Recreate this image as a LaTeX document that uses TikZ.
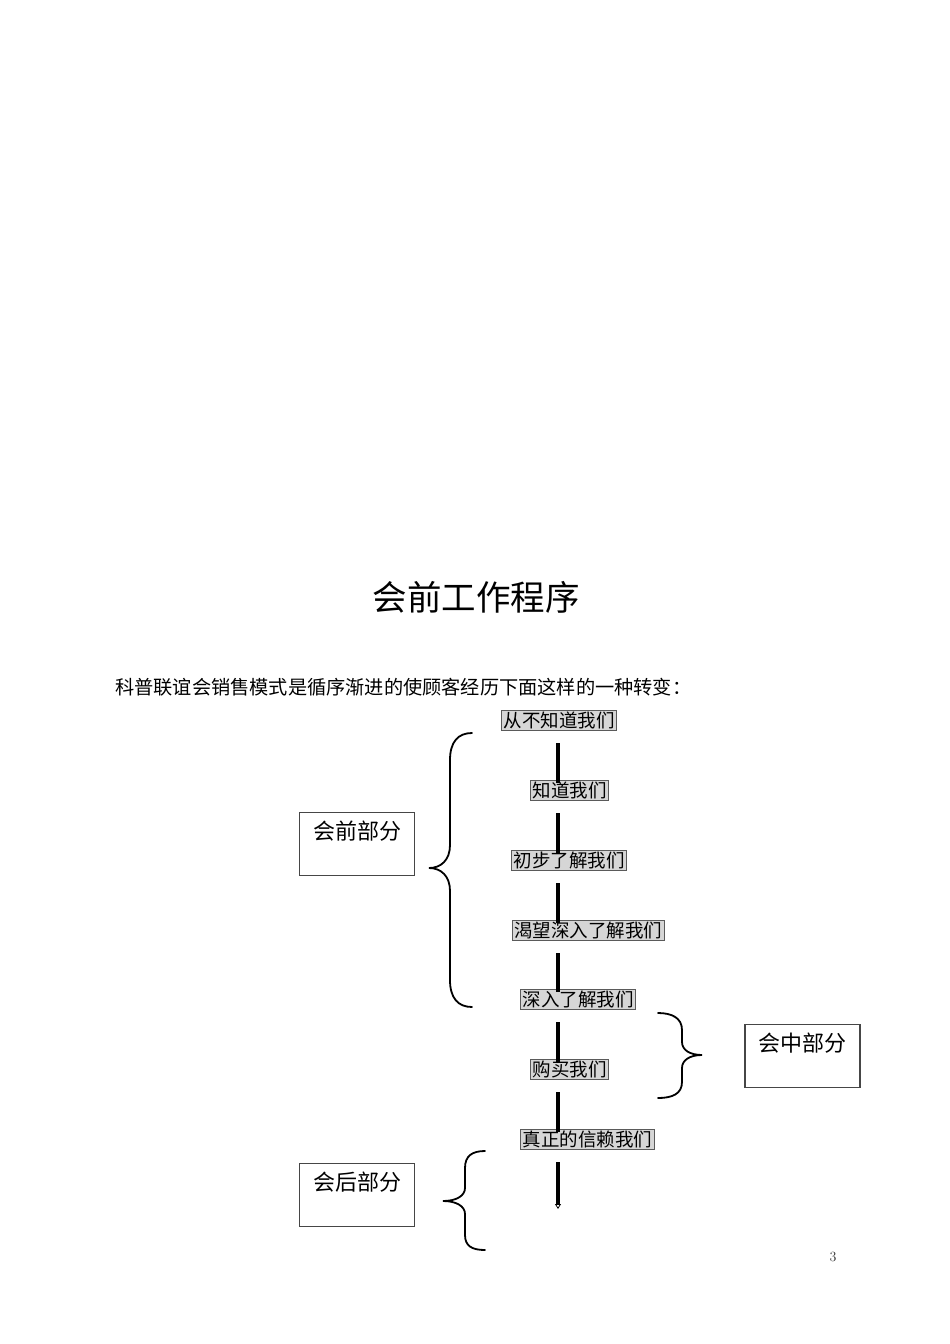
\documentclass[tikz,border=0pt]{standalone}
\usepackage{fontspec}
\newfontfamily\cjk{Noto Sans CJK SC}
\usetikzlibrary{arrows.meta,calc}
\definecolor{lblfill}{RGB}{214,214,214}
\definecolor{lbldraw}{RGB}{90,90,90}
\definecolor{boxdraw}{RGB}{70,70,70}
\tikzset{
  lbl/.style={fill=lblfill,draw=lbldraw,line width=0.8pt,inner xsep=2pt,inner ysep=0pt,
    text height=17pt,text depth=3pt,font=\cjk\fontsize{18.5pt}{20pt}\selectfont},
  partbox/.style={draw=boxdraw,line width=1.3pt,minimum width=115pt,inner ysep=0pt,
    text height=26.5pt,text depth=36.5pt,anchor=north,font=\cjk\fontsize{22pt}{24pt}\selectfont},
  brace/.style={line width=1.8pt,line cap=round},
  flow/.style={line width=3.3pt},
}
\begin{document}
\begin{tikzpicture}[x=1pt,y=-1pt]
\useasboundingbox (0,0) rectangle (950,1344);
\fill[white] (0,0) rectangle (950,1344);
\coordinate (axis) at (558,0);
% title and intro
\node[font=\cjk\fontsize{34.5pt}{36pt}\selectfont] (title) at (476,597) {会前工作程序};
\node[anchor=west,inner sep=0pt,font=\cjk\fontsize{19.2pt}{21pt}\selectfont] (intro) at (115,687) {科普联谊会销售模式是循序渐进的使顾客经历下面这样的一种转变：};
% stage labels
\node[lbl] (s1) at (559,720) {从不知道我们};
\node[lbl] (s2) at (569.5,790) {知道我们};
\node[lbl] (s3) at (569,860) {初步了解我们};
\node[lbl] (s4) at (588,930) {渴望深入了解我们};
\node[lbl] (s5) at (578,999) {深入了解我们};
\node[lbl] (s6) at (569.5,1069) {购买我们};
\node[lbl] (s7) at (587.5,1139) {真正的信赖我们};
% flow lines
\foreach \a/\b in {s1/s2,s2/s3,s3/s4,s4/s5,s5/s6,s6/s7}{
  \draw[flow] ($(axis |- \a.south)+(0,-13pt)$) -- ($(axis |- \b.center)+(0,7pt)$);
}
\coordinate (flowend) at (558,1209);
\draw[flow,-{Triangle[open,length=5pt,width=6pt,line width=0.8pt]}] ($(axis |- s7.south)+(0,-13pt)$) -- (flowend);
% part boxes
\node[partbox] (pre) at (357,812) {会前部分};
\node[partbox] (mid) at (802.5,1024) {会中部分};
\node[partbox] (post) at (357,1163) {会后部分};
% braces
\draw[brace] (472,733) .. controls (458,733) and (450,742) .. (450,760) -- (450,845)
  .. controls (450,860) and (441,868) .. (429,868)
  .. controls (441,868) and (450,876) .. (450,891) -- (450,980)
  .. controls (450,998) and (458,1007) .. (472,1007);
\draw[brace] (658,1013) .. controls (672,1013) and (682,1018) .. (682,1030) -- (682,1042)
  .. controls (682,1050) and (690,1055) .. (702,1055)
  .. controls (690,1055) and (682,1060) .. (682,1068) -- (682,1082)
  .. controls (682,1094) and (672,1098) .. (658,1098);
\draw[brace] (485,1151) .. controls (472,1151) and (465,1156) .. (465,1168) -- (465,1188)
  .. controls (465,1196) and (456,1201) .. (443,1201)
  .. controls (456,1201) and (465,1206) .. (465,1214) -- (465,1235)
  .. controls (465,1246) and (472,1250) .. (485,1250);
% page number
\node[font=\fontsize{14pt}{16pt}\selectfont,text=black!80] (pg) at (833,1257) {3};
\end{tikzpicture}
\end{document}
